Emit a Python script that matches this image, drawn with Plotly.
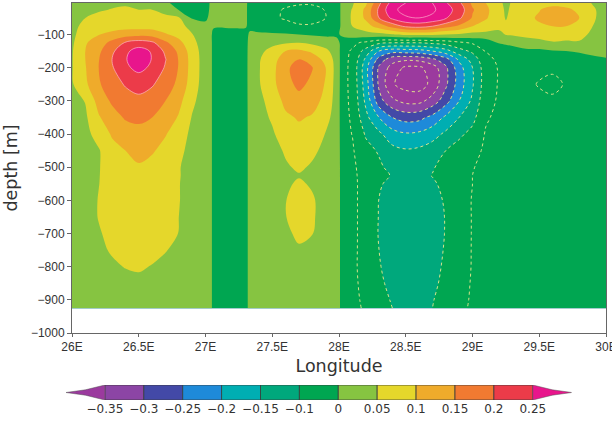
import numpy as np
import plotly.graph_objects as go

# ---------------- data ----------------
lon = [26.0, 26.1, 26.2, 26.3, 26.4, 26.5, 26.6, 26.7, 26.8, 26.9, 27.0, 27.04, 27.06,
       27.2, 27.3, 27.33, 27.4, 27.5, 27.6, 27.7, 27.8, 27.9, 27.98, 28.04, 28.1, 28.2,
       28.3, 28.4, 28.5, 28.6, 28.7, 28.8, 28.9, 29.0, 29.1, 29.2, 29.25, 29.3, 29.4,
       29.5, 29.6, 29.7, 29.8, 29.9, 30.0]
depth = [-5, -25, -50, -75, -100, -125, -150, -175, -200, -250, -300, -350, -400, -450,
         -500, -525, -550, -600, -650, -700, -750, -800, -850, -900, -925]

# vertical profiles, one per longitude (values at the depths above)
p26_0 = [0.020,0.022,0.025,0.030,0.035,0.042,0.046,0.047,0.047,0.045,0.035,0.032,0.030,0.030,0.030,0.030,0.030,0.030,0.030,0.030,0.028,0.025,0.022,0.020,0.020]
p26_1 = [0.030,0.040,0.050,0.070,0.085,0.095,0.100,0.100,0.097,0.090,0.052,0.042,0.035,0.032,0.030,0.030,0.030,0.030,0.030,0.030,0.030,0.028,0.025,0.022,0.020]
p26_2 = [0.035,0.045,0.063,0.082,0.098,0.125,0.140,0.148,0.150,0.145,0.120,0.095,0.070,0.046,0.047,0.048,0.049,0.052,0.052,0.046,0.040,0.032,0.026,0.022,0.020]
p26_3 = [0.040,0.052,0.065,0.078,0.115,0.165,0.190,0.200,0.195,0.175,0.158,0.130,0.105,0.085,0.075,0.072,0.070,0.070,0.068,0.062,0.055,0.042,0.030,0.025,0.022]
p26_4 = [0.045,0.055,0.066,0.080,0.130,0.205,0.240,0.245,0.240,0.205,0.175,0.155,0.125,0.100,0.085,0.082,0.080,0.078,0.075,0.070,0.065,0.052,0.035,0.025,0.022]
p26_5 = [0.045,0.050,0.065,0.080,0.135,0.225,0.270,0.290,0.265,0.215,0.190,0.160,0.135,0.115,0.095,0.092,0.090,0.088,0.085,0.080,0.070,0.055,0.040,0.030,0.025]
p26_6 = [0.045,0.050,0.065,0.080,0.130,0.210,0.245,0.247,0.240,0.205,0.175,0.150,0.125,0.105,0.085,0.082,0.080,0.078,0.075,0.070,0.062,0.048,0.035,0.028,0.025]
p26_7 = [0.005,0.035,0.060,0.075,0.105,0.160,0.190,0.202,0.195,0.175,0.150,0.130,0.103,0.085,0.075,0.072,0.070,0.070,0.068,0.065,0.052,0.040,0.030,0.025,0.025]
p26_8 = [-0.010,-0.003,0.055,0.065,0.085,0.115,0.140,0.147,0.147,0.138,0.115,0.095,0.075,0.062,0.053,0.053,0.052,0.052,0.050,0.049,0.040,0.032,0.028,0.025,0.025]
p26_9 = [-0.020,-0.015,-0.005,0.035,0.052,0.065,0.075,0.080,0.080,0.075,0.060,0.047,0.038,0.034,0.032,0.032,0.030,0.030,0.030,0.030,0.028,0.026,0.025,0.025,0.025]
p27_0 = [-0.030,-0.025,-0.010,0.015,0.020,0.022,0.025,0.025,0.025,0.025,0.025,0.025,0.025,0.025,0.025,0.025,0.025,0.025,0.025,0.025,0.025,0.025,0.025,0.025,0.025]
p27_04 = [0.010,0.012,0.015,0.020,0.020,0.020,0.020,0.020,0.020,0.020,0.020,0.020,0.020,0.020,0.020,0.020,0.020,0.020,0.020,0.020,0.020,0.020,0.020,0.020,0.020]
p27_06 = [0.020,0.020,0.020,0.012,-0.030,-0.030,-0.030,-0.030,-0.030,-0.030,-0.030,-0.030,-0.030,-0.030,-0.030,-0.030,-0.030,-0.030,-0.030,-0.030,-0.030,-0.030,-0.030,-0.030,-0.030]
p27_2 = [0.020,0.020,0.020,0.010,-0.030,-0.030,-0.030,-0.030,-0.030,-0.030,-0.030,-0.030,-0.030,-0.030,-0.030,-0.030,-0.030,-0.030,-0.030,-0.030,-0.030,-0.030,-0.030,-0.030,-0.030]
p27_3 = [0.020,0.020,0.020,0.008,-0.030,-0.030,-0.030,-0.030,-0.030,-0.030,-0.030,-0.030,-0.030,-0.030,-0.030,-0.030,-0.030,-0.030,-0.030,-0.030,-0.030,-0.030,-0.030,-0.030,-0.030]
p27_33 = [-0.030,-0.035,-0.035,-0.020,0.012,0.025,0.030,0.032,0.033,0.032,0.030,0.028,0.026,0.025,0.025,0.025,0.025,0.025,0.025,0.025,0.025,0.025,0.025,0.025,0.025]
p27_4 = [-0.035,-0.040,-0.040,-0.028,0.010,0.030,0.040,0.046,0.047,0.046,0.040,0.036,0.032,0.028,0.026,0.026,0.026,0.026,0.026,0.026,0.025,0.025,0.025,0.025,0.025]
p27_5 = [-0.040,-0.045,-0.045,-0.035,0.008,0.040,0.062,0.078,0.084,0.085,0.065,0.055,0.045,0.035,0.030,0.030,0.030,0.030,0.030,0.030,0.028,0.026,0.025,0.025,0.025]
p27_6 = [-0.045,-0.052,-0.053,-0.040,0.005,0.045,0.100,0.130,0.140,0.135,0.115,0.090,0.070,0.055,0.045,0.042,0.043,0.049,0.049,0.042,0.032,0.027,0.025,0.025,0.025]
p27_7 = [-0.045,-0.062,-0.064,-0.045,0.000,0.050,0.110,0.150,0.170,0.160,0.135,0.105,0.085,0.070,0.056,0.047,0.056,0.065,0.065,0.058,0.045,0.030,0.026,0.025,0.025]
p27_8 = [-0.045,-0.062,-0.063,-0.045,-0.005,0.040,0.090,0.130,0.152,0.140,0.120,0.095,0.075,0.058,0.045,0.040,0.045,0.055,0.055,0.051,0.040,0.028,0.025,0.025,0.025]
p27_9 = [-0.040,-0.048,-0.050,-0.038,-0.010,0.030,0.060,0.085,0.100,0.095,0.085,0.065,0.048,0.040,0.035,0.032,0.032,0.032,0.032,0.030,0.028,0.026,0.025,0.025,0.025]
p27_98 = [-0.030,-0.035,-0.035,-0.030,-0.010,0.020,0.030,0.033,0.033,0.032,0.030,0.030,0.030,0.030,0.030,0.030,0.030,0.030,0.030,0.030,0.030,0.030,0.030,0.030,0.030]
p28_04 = [0.030,0.035,0.035,0.030,0.015,-0.030,-0.040,-0.042,-0.042,-0.042,-0.042,-0.041,-0.040,-0.038,-0.036,-0.036,-0.035,-0.035,-0.035,-0.035,-0.035,-0.035,-0.035,-0.035,-0.035]
p28_1 = [0.045,0.052,0.054,0.050,0.025,-0.040,-0.055,-0.058,-0.060,-0.060,-0.058,-0.055,-0.051,-0.045,-0.041,-0.040,-0.040,-0.040,-0.040,-0.040,-0.041,-0.042,-0.041,-0.040,-0.040]
p28_2 = [0.090,0.110,0.108,0.080,0.030,-0.060,-0.120,-0.160,-0.180,-0.175,-0.160,-0.135,-0.105,-0.085,-0.072,-0.068,-0.066,-0.066,-0.066,-0.066,-0.065,-0.064,-0.062,-0.058,-0.055]
p28_3 = [0.190,0.210,0.200,0.120,0.035,-0.090,-0.200,-0.270,-0.310,-0.310,-0.280,-0.200,-0.140,-0.105,-0.092,-0.088,-0.095,-0.101,-0.102,-0.103,-0.100,-0.097,-0.093,-0.088,-0.086]
p28_4 = [0.270,0.290,0.262,0.170,0.045,-0.100,-0.230,-0.330,-0.370,-0.395,-0.340,-0.250,-0.180,-0.135,-0.115,-0.103,-0.112,-0.120,-0.123,-0.123,-0.120,-0.117,-0.110,-0.103,-0.100]
p28_5 = [0.300,0.315,0.295,0.210,0.060,-0.100,-0.225,-0.340,-0.410,-0.420,-0.365,-0.270,-0.195,-0.145,-0.125,-0.118,-0.125,-0.130,-0.132,-0.132,-0.130,-0.128,-0.122,-0.115,-0.112]
p28_6 = [0.310,0.325,0.300,0.220,0.060,-0.100,-0.220,-0.335,-0.410,-0.425,-0.365,-0.265,-0.190,-0.140,-0.122,-0.115,-0.125,-0.130,-0.132,-0.132,-0.130,-0.127,-0.122,-0.115,-0.112]
p28_7 = [0.300,0.310,0.290,0.200,0.060,-0.090,-0.200,-0.310,-0.375,-0.385,-0.330,-0.235,-0.170,-0.125,-0.105,-0.098,-0.108,-0.115,-0.118,-0.118,-0.116,-0.113,-0.108,-0.102,-0.100]
p28_8 = [0.255,0.270,0.255,0.170,0.050,-0.080,-0.170,-0.270,-0.310,-0.310,-0.270,-0.190,-0.140,-0.100,-0.080,-0.075,-0.085,-0.095,-0.098,-0.098,-0.096,-0.093,-0.090,-0.085,-0.083]
p28_9 = [0.210,0.230,0.210,0.140,0.045,-0.060,-0.120,-0.190,-0.220,-0.225,-0.200,-0.150,-0.110,-0.080,-0.065,-0.060,-0.063,-0.068,-0.070,-0.070,-0.068,-0.066,-0.063,-0.060,-0.058]
p29_0 = [0.140,0.155,0.145,0.100,0.035,-0.045,-0.090,-0.130,-0.150,-0.155,-0.140,-0.115,-0.085,-0.065,-0.052,-0.050,-0.050,-0.048,-0.048,-0.048,-0.048,-0.048,-0.047,-0.046,-0.045]
p29_1 = [0.100,0.110,0.105,0.080,0.035,-0.030,-0.048,-0.062,-0.072,-0.073,-0.066,-0.055,-0.046,-0.042,-0.040,-0.040,-0.040,-0.040,-0.040,-0.040,-0.040,-0.040,-0.040,-0.040,-0.040]
p29_2 = [0.060,0.070,0.068,0.060,0.040,0.003,-0.030,-0.042,-0.046,-0.046,-0.044,-0.040,-0.038,-0.036,-0.035,-0.035,-0.035,-0.035,-0.035,-0.035,-0.035,-0.035,-0.035,-0.035,-0.035]
p29_25 = [0.040,0.042,0.047,0.058,0.052,0.008,-0.028,-0.040,-0.044,-0.045,-0.043,-0.040,-0.038,-0.036,-0.035,-0.035,-0.035,-0.035,-0.035,-0.035,-0.035,-0.035,-0.035,-0.035,-0.035]
p29_3 = [0.055,0.060,0.065,0.068,0.055,0.015,-0.025,-0.038,-0.042,-0.044,-0.042,-0.040,-0.038,-0.036,-0.035,-0.035,-0.035,-0.035,-0.035,-0.035,-0.035,-0.035,-0.035,-0.035,-0.035]
p29_4 = [0.070,0.085,0.090,0.085,0.065,0.025,-0.010,-0.035,-0.040,-0.045,-0.045,-0.042,-0.040,-0.038,-0.037,-0.037,-0.037,-0.037,-0.037,-0.037,-0.037,-0.036,-0.036,-0.036,-0.036]
p29_5 = [0.080,0.098,0.105,0.095,0.075,0.030,-0.010,-0.035,-0.045,-0.0515,-0.045,-0.042,-0.040,-0.038,-0.038,-0.038,-0.038,-0.038,-0.038,-0.038,-0.038,-0.038,-0.038,-0.038,-0.038]
p29_6 = [0.085,0.115,0.130,0.100,0.080,0.045,-0.003,-0.030,-0.046,-0.056,-0.046,-0.042,-0.040,-0.038,-0.038,-0.038,-0.038,-0.038,-0.038,-0.038,-0.038,-0.038,-0.038,-0.038,-0.038]
p29_7 = [0.080,0.110,0.120,0.100,0.075,0.040,0.000,-0.025,-0.040,-0.048,-0.042,-0.040,-0.039,-0.038,-0.038,-0.038,-0.038,-0.038,-0.038,-0.038,-0.038,-0.038,-0.038,-0.038,-0.038]
p29_8 = [0.065,0.090,0.100,0.085,0.065,0.045,0.005,-0.020,-0.035,-0.042,-0.040,-0.039,-0.038,-0.038,-0.038,-0.038,-0.038,-0.038,-0.038,-0.038,-0.038,-0.038,-0.038,-0.038,-0.038]
p29_9 = [0.048,0.055,0.055,0.050,0.040,0.030,0.012,-0.010,-0.030,-0.040,-0.039,-0.038,-0.038,-0.038,-0.038,-0.038,-0.038,-0.038,-0.038,-0.038,-0.038,-0.038,-0.038,-0.038,-0.038]
p30_0 = [0.030,0.035,0.035,0.030,0.025,0.020,0.012,-0.003,-0.025,-0.038,-0.037,-0.036,-0.036,-0.036,-0.036,-0.036,-0.036,-0.036,-0.036,-0.036,-0.036,-0.036,-0.036,-0.036,-0.036]

profiles = [p26_0, p26_1, p26_2, p26_3, p26_4, p26_5, p26_6, p26_7, p26_8, p26_9, p27_0,
            p27_04, p27_06, p27_2, p27_3, p27_33, p27_4, p27_5, p27_6, p27_7, p27_8, p27_9,
            p27_98, p28_04, p28_1, p28_2, p28_3, p28_4, p28_5, p28_6, p28_7, p28_8, p28_9,
            p29_0, p29_1, p29_2, p29_25, p29_3, p29_4, p29_5, p29_6, p29_7, p29_8, p29_9, p30_0]

# contour levels and band colours (below first level ... above last level)
level_start, level_end, level_step = -0.35, 0.25, 0.05
band_colors = ['#9B3A9E', '#8C45A5', '#4349A7', '#1E8AD9', '#00AEB2', '#00A87C',
               '#00A651', '#00A651', '#86C441', '#E5D72B', '#EFAB2B', '#F17A31',
               '#EC3B49', '#E8158C']
cb_labels = ['\u22120.35', '\u22120.3', '\u22120.25', '\u22120.2', '\u22120.15', '\u22120.1',
             '0', '0.05', '0.1', '0.15', '0.2', '0.25']

lon_ticks = [26.0, 26.5, 27.0, 27.5, 28.0, 28.5, 29.0, 29.5, 30.0]
lon_tick_text = ['26E', '26.5E', '27E', '27.5E', '28E', '28.5E', '29E', '29.5E', '30E']
depth_ticks = [-100, -200, -300, -400, -500, -600, -700, -800, -900, -1000]
depth_tick_text = ['\u2212100', '\u2212200', '\u2212300', '\u2212400', '\u2212500',
                   '\u2212600', '\u2212700', '\u2212800', '\u2212900', '\u22121000']

# ---------------- figure ----------------
z = np.array(profiles).T.tolist()
nb = len(band_colors)
colorscale = [[i / (nb - 1), c] for i, c in enumerate(band_colors)]

FONT = 'DejaVu Sans'
TICKFONT = 'Liberation Sans'
fig = go.Figure()

fig.add_trace(go.Contour(
    x=lon, y=depth, z=z,
    contours=dict(start=level_start, end=level_end, size=level_step,
                  coloring='fill', showlines=False),
    colorscale=colorscale, showscale=False,
    line=dict(width=0, smoothing=1), hoverinfo='skip'))

# dotted negative contour lines
fig.add_trace(go.Contour(
    x=lon, y=depth, z=z,
    contours=dict(start=-0.45, end=-0.05, size=0.05, coloring='none'),
    line=dict(color='rgba(226,230,140,0.95)', width=1, dash='dot', smoothing=1),
    showscale=False, hoverinfo='skip'))

# faint solid positive contour lines
fig.add_trace(go.Contour(
    x=lon, y=depth, z=z,
    contours=dict(start=0.2, end=0.3, size=0.05, coloring='none'),
    line=dict(color='rgba(255,190,210,0.8)', width=0.8, smoothing=1),
    showscale=False, hoverinfo='skip'))

# ---- custom labelbar with end triangles ----
box_colors = band_colors[1:7] + band_colors[8:13]
nbox = len(box_colors)
fig.add_trace(go.Bar(
    x=[i + 0.5 for i in range(nbox)], y=[1] * nbox, width=1,
    marker=dict(color=box_colors, line=dict(color='#3a3a3a', width=0.8)),
    xaxis='x2', yaxis='y2', showlegend=False, hoverinfo='skip'))
fig.add_trace(go.Scatter(
    x=[0, -0.5, -1, -0.5, 0, 0], y=[0, 0.32, 0.5, 0.68, 1, 0],
    fill='toself', fillcolor=band_colors[0], mode='lines',
    line=dict(color='#555', width=0.5), xaxis='x2', yaxis='y2',
    showlegend=False, hoverinfo='skip'))
fig.add_trace(go.Scatter(
    x=[nbox, nbox + 0.5, nbox + 1, nbox + 0.5, nbox, nbox],
    y=[0, 0.32, 0.5, 0.68, 1, 0],
    fill='toself', fillcolor=band_colors[-1], mode='lines',
    line=dict(color='#555', width=0.5), xaxis='x2', yaxis='y2',
    showlegend=False, hoverinfo='skip'))

W, H = 612, 421
ml, mr, mt, mb = 60, 6, 3, 10
pw, ph = W - ml - mr, H - mt - mb

def px_x(p):
    return (p - ml) / pw

def px_y(p):
    return (H - mb - p) / ph

fig.update_layout(
    width=W, height=H,
    margin=dict(l=ml, r=mr, t=mt, b=mb, autoexpand=False),
    paper_bgcolor='white', plot_bgcolor='white',
    font=dict(family=FONT, color='#333'),
    showlegend=False,
    xaxis=dict(domain=[px_x(72), 1], range=[26, 30], tickvals=lon_ticks,
               ticktext=lon_tick_text, ticks='outside', ticklen=3, tickcolor='#666',
               showline=True, linecolor='#666', linewidth=1, mirror=True,
               showgrid=False, zeroline=False,
               tickfont=dict(family=TICKFONT, size=12, color='#333'),
               ticklabeloverflow='allow', automargin=False,
               title=dict(text='Longitude', font=dict(size=17.5, color='#333'), standoff=6),
               anchor='y'),
    yaxis=dict(domain=[px_y(333), 1], range=[-1000, -5], tickvals=depth_ticks,
               ticktext=depth_tick_text, ticks='outside', ticklen=4, tickcolor='#666',
               showline=True, linecolor='#666', linewidth=1, mirror=True,
               showgrid=False, zeroline=False,
               tickfont=dict(family=TICKFONT, size=12, color='#333'),
               ticklabeloverflow='allow', automargin=False,
               title=dict(text='depth [m]', font=dict(size=17.5, color='#333'), standoff=8),
               anchor='x'),
    xaxis2=dict(domain=[px_x(66), px_x(571.7)], range=[-1, nbox + 1], anchor='y2',
                tickvals=list(range(len(cb_labels))), ticktext=cb_labels, ticks='',
                showline=False, showgrid=False, zeroline=False, automargin=False,
                ticklabeloverflow='allow',
                tickfont=dict(size=12, color='#333')),
    yaxis2=dict(domain=[px_y(400), px_y(385)], range=[0, 1], anchor='x2', visible=False),
)

fig.write_html('out.html', config={'displayModeBar': False},
               post_script="document.body.style.margin='0';document.body.style.overflow='hidden';")
